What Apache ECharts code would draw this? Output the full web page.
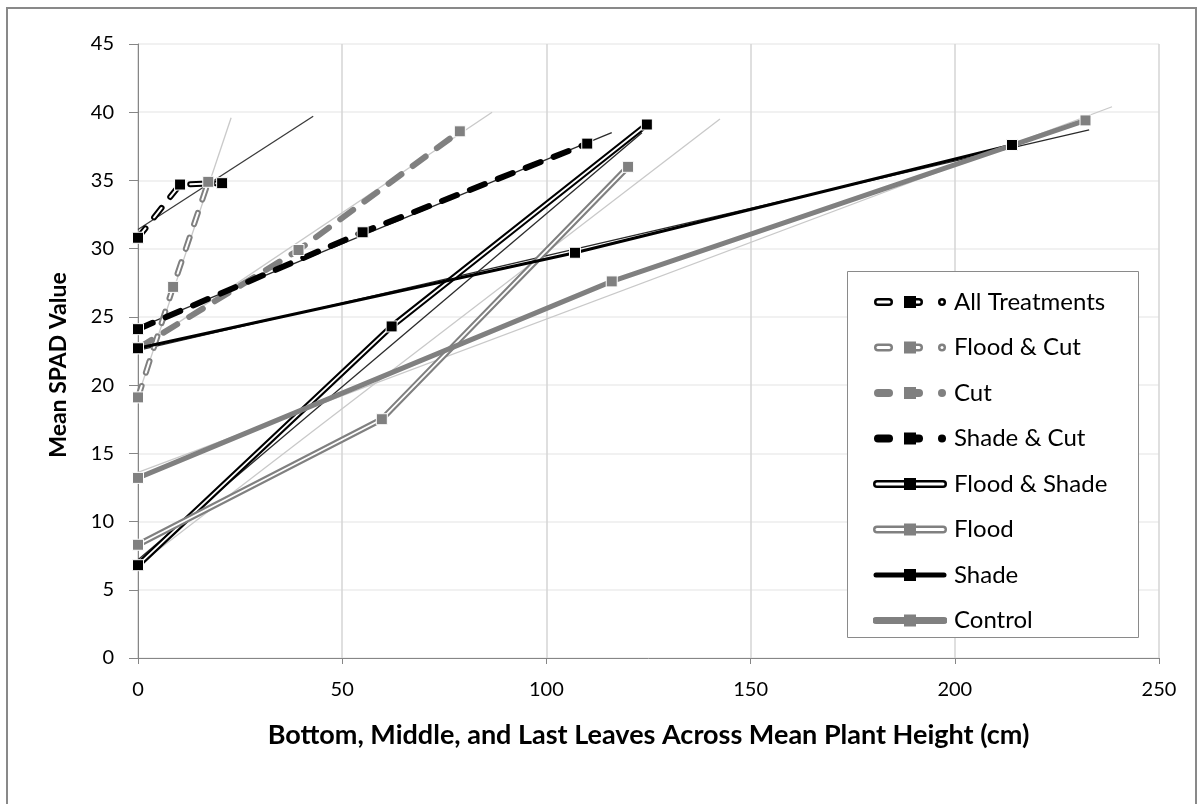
<!DOCTYPE html>
<html><head><meta charset="utf-8">
<script src="https://cdn.jsdelivr.net/npm/echarts@6/dist/echarts.min.js"></script>
<style>html,body{margin:0;padding:0;background:#fff}#c{width:1204px;height:804px}</style>
</head><body><div id="c"></div>
<script>
// ---------- data ----------
const seriesNames = ['All Treatments','Flood & Cut','Cut','Shade & Cut','Flood & Shade','Flood','Shade','Control'];
const xTicks = [0, 50, 100, 150, 200, 250];
const yTicks = [0, 5, 10, 15, 20, 25, 30, 35, 40, 45];

const allTreatmentsX = [0, 10.3, 20.6];
const allTreatmentsY = [30.8, 34.7, 34.8];
const floodCutX = [0, 8.6, 17.2];
const floodCutY = [19.1, 27.2, 34.9];
const cutX = [0, 39.3, 78.8];
const cutY = [22.7, 29.9, 38.6];
const shadeCutX = [0, 55.0, 110.0];
const shadeCutY = [24.1, 31.2, 37.7];
const floodShadeX = [0, 62.1, 124.6];
const floodShadeY = [6.8, 24.3, 39.1];
const floodX = [0, 59.7, 120.0];
const floodY = [8.3, 17.5, 36.0];
const shadeX = [0, 107.0, 214.0];
const shadeY = [22.7, 29.7, 37.6];
const controlX = [0, 116.0, 232.0];
const controlY = [13.2, 27.6, 39.4];

// linear trend lines (start / end points)
const trendAllTreatments = [[0, 31.4], [42.9, 39.7]];
const trendFloodCut = [[0, 19.2], [22.8, 39.6]];
const trendCut = [[0, 22.6], [86.7, 40.0]];
const trendShadeCut = [[0, 24.2], [116, 38.5]];
const trendFloodShade = [[0, 7.2], [123.4, 38.5]];
const trendFlood = [[0, 6.8], [142.5, 39.5]];
const trendShade = [[0, 22.55], [232.9, 38.7]];
const trendControl = [[0, 13.6], [238.5, 40.4]];

// ---------- styling ----------
const BLACK = '#000000', GRAY = '#808080', LIGHT = '#c9c9c9', DARKTREND = '#2a2a2a';
const FONT = 'Lato';

const defs = [
  {name: seriesNames[0], x: allTreatmentsX, y: allTreatmentsY, trend: trendAllTreatments, color: BLACK, kind: 'outlineDash', trendColor: '#3a3a3a'},
  {name: seriesNames[1], x: floodCutX, y: floodCutY, trend: trendFloodCut, color: GRAY, kind: 'outlineDash', trendColor: LIGHT},
  {name: seriesNames[2], x: cutX, y: cutY, trend: trendCut, color: GRAY, kind: 'dash', trendColor: LIGHT},
  {name: seriesNames[3], x: shadeCutX, y: shadeCutY, trend: trendShadeCut, color: BLACK, kind: 'dash', trendColor: DARKTREND},
  {name: seriesNames[4], x: floodShadeX, y: floodShadeY, trend: trendFloodShade, color: BLACK, kind: 'double', trendColor: DARKTREND},
  {name: seriesNames[5], x: floodX, y: floodY, trend: trendFlood, color: GRAY, kind: 'double', trendColor: LIGHT},
  {name: seriesNames[6], x: shadeX, y: shadeY, trend: trendShade, color: BLACK, kind: 'solid', width: 3, trendColor: DARKTREND},
  {name: seriesNames[7], x: controlX, y: controlY, trend: trendControl, color: GRAY, kind: 'solid', width: 5, trendColor: LIGHT}
];

function pts(xs, ys) { return xs.map((x, i) => [x, ys[i]]); }

const series = [];
// trend lines underneath
defs.forEach(d => {
  series.push({
    name: d.name + ' trend', type: 'line', data: d.trend, showSymbol: false, silent: true,
    lineStyle: {color: d.trendColor, width: 1.3}, z: 2, animation: false
  });
});
const sym = (d) => ({symbol: 'rect', symbolSize: 11, showSymbol: true,
  itemStyle: {color: d.color, borderColor: '#ffffff', borderWidth: 1}});
defs.forEach(d => {
  const data = pts(d.x, d.y);
  if (d.kind === 'solid') {
    series.push(Object.assign({name: d.name, type: 'line', data, z: 3, animation: false,
      lineStyle: {color: d.color, width: d.width}}, sym(d)));
  } else if (d.kind === 'double') {
    series.push({name: d.name, type: 'line', data, z: 3, animation: false, showSymbol: false,
      symbol: 'none', lineStyle: {color: d.color, width: 6}, itemStyle: {color: d.color}});
    series.push(Object.assign({name: d.name + ' inner', type: 'line', data, z: 3, animation: false,
      lineStyle: {color: '#ffffff', width: 1.8}}, sym(d)));
  } else if (d.kind === 'dash') {
    series.push(Object.assign({name: d.name, type: 'line', data, z: 3, animation: false,
      lineStyle: {color: d.color, width: 6, type: [16, 14], cap: 'round'}}, sym(d)));
  } else if (d.kind === 'outlineDash') {
    series.push({name: d.name, type: 'line', data, z: 3, animation: false, showSymbol: false,
      symbol: 'none', lineStyle: {color: d.color, width: 6, type: [12, 14], cap: 'round'}, itemStyle: {color: d.color}});
    series.push(Object.assign({name: d.name + ' inner', type: 'line', data, z: 3, animation: false,
      lineStyle: {color: '#ffffff', width: 2, type: [12, 14], cap: 'round'}}, sym(d)));
  }
});

// legend icons as small SVG images
function svgIcon(inner) {
  return 'image://data:image/svg+xml;charset=utf-8,' + encodeURIComponent(
    '<svg xmlns="http://www.w3.org/2000/svg" width="74" height="16" viewBox="0 0 74 16">' + inner + '</svg>');
}
function seg(x1, x2, c, w) {
  return '<line x1="' + x1 + '" y1="8" x2="' + x2 + '" y2="8" stroke="' + c + '" stroke-width="' + w + '" stroke-linecap="round"/>';
}
function sq(c) { return '<rect x="31" y="2" width="12" height="12" fill="' + c + '"/>'; }
function iconFor(d) {
  const c = d.color;
  if (d.kind === 'outlineDash') {
    return svgIcon(seg(5, 16, c, 8) + seg(5, 16, '#fff', 3) + seg(42, 46, c, 8) + seg(42, 46, '#fff', 3) + sq(c) +
      seg(69, 69, c, 8) + seg(69, 69, '#fff', 3));
  }
  if (d.kind === 'dash') {
    return svgIcon(seg(5, 16, c, 8) + seg(42, 46, c, 8) + sq(c) + seg(69, 69, c, 8));
  }
  if (d.kind === 'double') {
    return svgIcon('<line x1="4" y1="8" x2="70" y2="8" stroke="' + c + '" stroke-width="8" stroke-linecap="round"/>' +
      '<line x1="4" y1="8" x2="70" y2="8" stroke="#fff" stroke-width="3" stroke-linecap="round"/>' + sq(c));
  }
  return svgIcon('<line x1="3" y1="8" x2="71" y2="8" stroke="' + c + '" stroke-width="' + (d.width + 2) + '" stroke-linecap="round"/>' + sq(c));
}

const option = {
  backgroundColor: '#ffffff',
  animation: false,
  textStyle: {fontFamily: FONT},
  grid: {left: 138, right: 45, top: 44, bottom: 146, containLabel: false},
  xAxis: {
    type: 'value', min: xTicks[0], max: xTicks[xTicks.length - 1], interval: xTicks[1] - xTicks[0],
    axisLine: {show: true, onZero: false, lineStyle: {color: '#868686', width: 1}},
    axisTick: {show: true, length: 6, lineStyle: {color: '#868686'}},
    axisLabel: {fontSize: 20, color: '#000', margin: 22, fontFamily: FONT},
    splitLine: {show: true, lineStyle: {color: '#d4d4d4', width: 1.5}},
    name: 'Bottom, Middle, and Last Leaves Across Mean Plant Height (cm)',
    nameLocation: 'middle', nameGap: 64,
    nameTextStyle: {fontWeight: 'bold', fontSize: 27, color: '#000', fontFamily: FONT}
  },
  yAxis: {
    type: 'value', min: yTicks[0], max: yTicks[yTicks.length - 1], interval: yTicks[1] - yTicks[0],
    axisLine: {show: true, onZero: false, lineStyle: {color: '#868686', width: 1}},
    axisTick: {show: true, length: 9, lineStyle: {color: '#868686'}},
    axisLabel: {fontSize: 20, color: '#000', margin: 24, fontFamily: FONT},
    splitLine: {show: true, lineStyle: {color: '#ececec', width: 1.5}},
    name: 'Mean SPAD Value', nameLocation: 'middle', nameGap: 68, nameRotate: 90,
    nameTextStyle: {fontWeight: 'bold', fontSize: 23, color: '#000', fontFamily: FONT, padding: [0, 28, 0, 0]}
  },
  legend: {
    left: 868, top: 284, orient: 'vertical', selectedMode: false,
    itemWidth: 74, itemHeight: 16, itemGap: 19.5,
    textStyle: {fontSize: 24, color: '#000', lineHeight: 26, fontFamily: FONT, padding: [0, 0, 0, 2]},
    data: defs.map(d => ({name: d.name, icon: iconFor(d)}))
  },
  graphic: [
    {type: 'rect', shape: {x: 7, y: 8, width: 1189, height: 810}, style: {fill: 'none', stroke: '#898989', lineWidth: 2}, silent: true},
    {type: 'rect', shape: {x: 847.5, y: 271.5, width: 291, height: 366}, style: {fill: '#ffffff', stroke: '#8a8a8a', lineWidth: 1}, z: 1, silent: true}
  ],
  series: series
};

const chart = echarts.init(document.getElementById('c'), null, {renderer: 'canvas'});
chart.setOption(option);
</script>
</body></html>
